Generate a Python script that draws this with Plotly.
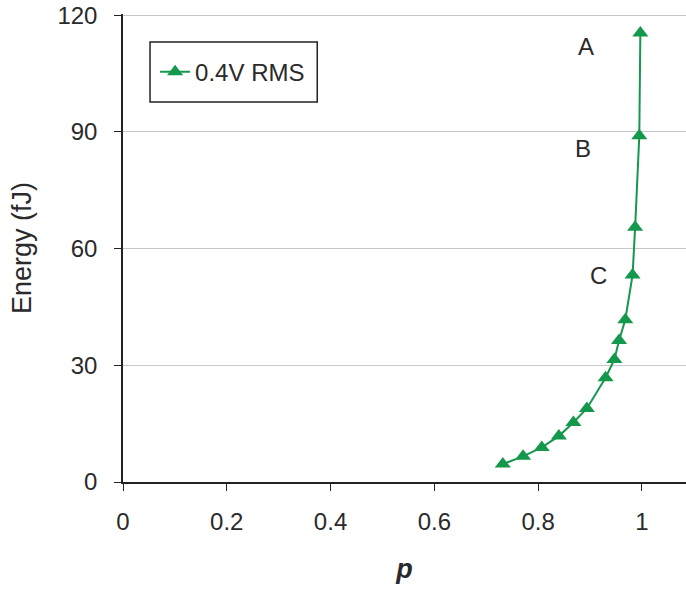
import plotly.graph_objects as go

p_vals = [0.732, 0.771, 0.807, 0.840, 0.868, 0.894, 0.930, 0.947, 0.956, 0.968, 0.982, 0.987, 0.995, 0.997]
energy = [4.6, 6.6, 8.9, 11.8, 15.3, 18.9, 26.8, 31.5, 36.4, 41.7, 53.2, 65.5, 89.0, 115.4]
series_name = "0.4V RMS"

label_text = ["A", "B", "C"]
label_p = [0.893, 0.886, 0.916]
label_e = [112.0, 85.7, 53.2]

x_ticks = [0, 0.2, 0.4, 0.6, 0.8, 1]
x_ticktext = ["0", "0.2", "0.4", "0.6", "0.8", "1"]
y_ticks = [0, 30, 60, 90, 120]

green = "#14984c"
text_col = "#2a2a2a"
font_family = "Liberation Sans, Arial, sans-serif"

fig = go.Figure()
fig.add_trace(go.Scatter(
    x=p_vals, y=energy, mode="lines+markers", name=series_name,
    line=dict(color=green, width=2),
    marker=dict(symbol="triangle-up", size=14, color=green),
))

for t, xv, yv in zip(label_text, label_p, label_e):
    fig.add_annotation(x=xv, y=yv, text=t, showarrow=False,
                       font=dict(size=24, color=text_col, family=font_family))

# legend frame (pixels 150-317 x 40-100 in a 123..686 x 14..482 plot area)
fig.add_shape(type="rect", xref="paper", yref="paper",
              x0=0.048, x1=0.345, y0=0.812, y1=0.940,
              line=dict(color="#222", width=1.5), fillcolor="white", layer="below")

fig.update_layout(
    width=686, height=592,
    margin=dict(l=123, r=0, t=14, b=110),
    paper_bgcolor="white", plot_bgcolor="white",
    font=dict(family=font_family, size=24, color=text_col),
    showlegend=True,
    legend=dict(x=0.057, y=0.876, xanchor="left", yanchor="middle",
                borderwidth=0, bgcolor="rgba(0,0,0,0)",
                font=dict(size=24, color=text_col), itemwidth=30),
    xaxis=dict(range=[0, 1.085], tickvals=x_ticks, ticktext=x_ticktext,
               showgrid=False, zeroline=False, showline=True,
               linecolor="#222", linewidth=1.5, ticks="outside",
               ticklen=7, tickcolor="#222", ticklabelstandoff=10,
               tickfont=dict(size=24),
               title=dict(text="<b><i>p</i></b>", font=dict(size=27), standoff=26)),
    yaxis=dict(range=[0, 120.3], tickvals=y_ticks, showgrid=True,
               gridcolor="#c8c8c8", gridwidth=1, zeroline=False,
               showline=True, linecolor="#222", linewidth=1.5,
               ticks="outside", ticklen=7, tickcolor="#222",
               ticklabelstandoff=12, tickfont=dict(size=24),
               title=dict(text="Energy (fJ)", font=dict(size=27), standoff=18)),
)

fig.write_html("out.html", config={"displayModeBar": False},
               post_script="document.body.style.margin='0px';")
